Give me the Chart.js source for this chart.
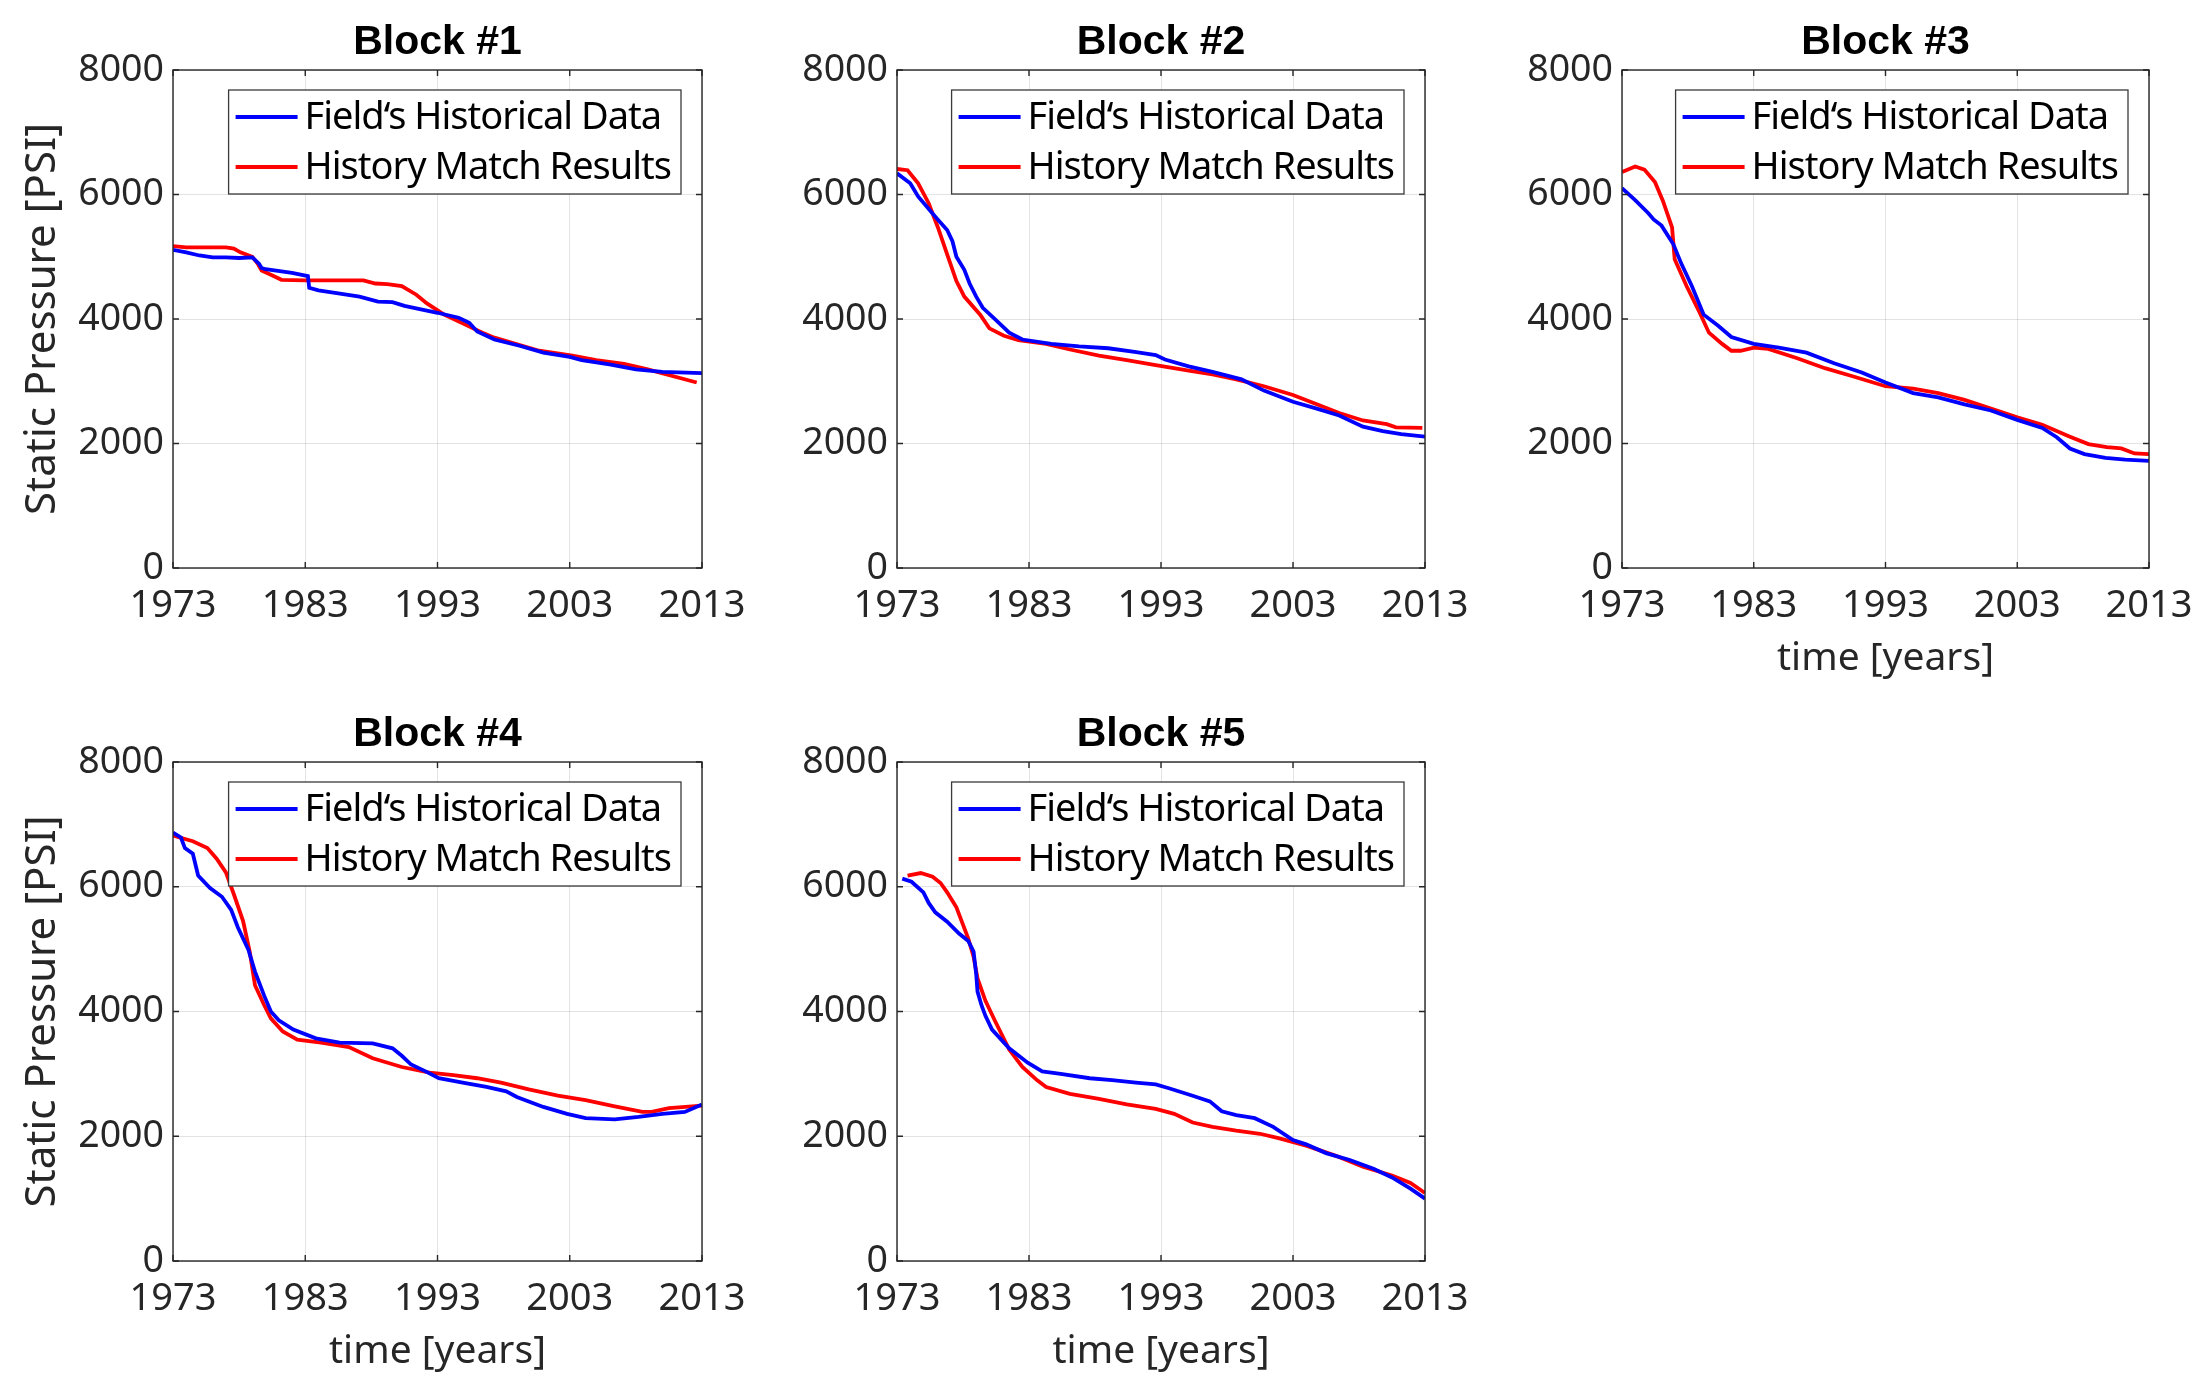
<!DOCTYPE html>
<html>
<head>
<meta charset="utf-8">
<script src="https://cdn.jsdelivr.net/npm/chart.js@4.4.1/dist/chart.umd.min.js"></script>
<style>
body{margin:0;background:#fff;width:2209px;height:1384px;position:relative;overflow:hidden}
canvas{position:absolute}
</style>
</head>
<body>
<script>
const yearTicks = [1973, 1983, 1993, 2003, 2013]
const pressureTicks = [0, 2000, 4000, 6000, 8000]
const legendLabels = ["Field‘s Historical Data", "History Match Results"]
const blockTitles = ["Block #1", "Block #2", "Block #3", "Block #4", "Block #5"]

// Block #1
const b1_field_t = [1973,1974,1975,1976,1977,1978,1979,1979.5,1979.7,1980,1982,1983.2,1983.3,1984,1985.5,1987.1,1988.5,1989.6,1990.5,1993,1994.6,1995.4,1996,1997.3,1999.2,2001,2003,2003.9,2006,2008,2010,2013]
const b1_field_p = [5110,5070,5020,4990,4990,4980,4990,4890,4820,4800,4740,4690,4500,4460,4410,4360,4280,4270,4210,4100,4020,3940,3800,3670,3570,3460,3390,3340,3270,3190,3150,3130]
const b1_match_t = [1973,1974,1977,1977.6,1978.1,1979,1979.4,1979.7,1980.4,1981.2,1983,1987.4,1988.3,1989.2,1990.3,1991.4,1992.2,1993.5,1994.9,1996.4,1997.3,1998.9,2000.7,2003.2,2005,2007.1,2008.9,2012.6]
const b1_match_p = [5170,5150,5150,5130,5070,5000,4890,4780,4710,4630,4620,4620,4570,4560,4530,4390,4250,4070,3930,3780,3700,3600,3490,3410,3340,3280,3190,2980]

// Block #2
const b2_field_t = [1973,1974,1974.6,1976,1976.8,1977.2,1977.5,1978.1,1978.5,1979,1979.5,1980.6,1981.5,1982.5,1984.7,1986.8,1989,1991,1992.6,1993.3,1995.1,1996.9,1999.1,2000.8,2003,2004.8,2006.5,2008.3,2009.8,2011.2,2013]
const b2_field_p = [6340,6180,5970,5620,5430,5250,5000,4790,4570,4360,4180,3960,3780,3670,3600,3560,3530,3470,3420,3350,3240,3150,3030,2850,2670,2560,2450,2270,2200,2150,2110]
const b2_match_t = [1973,1973.8,1974.6,1975.4,1976.1,1976.8,1977.5,1978.1,1979.3,1980,1981.1,1982.2,1984.3,1986.1,1988.3,1990.4,1992.6,1995.1,1996.9,1998.7,2000.8,2003,2004.8,2006.5,2008.3,2010.1,2010.8,2012.8]
const b2_match_p = [6410,6390,6180,5860,5470,5040,4610,4360,4070,3850,3730,3660,3600,3510,3410,3340,3260,3170,3110,3030,2920,2780,2630,2490,2370,2310,2260,2250]

// Block #3
const b3_field_t = [1973,1974,1975,1975.4,1976,1976.9,1977.5,1978.3,1979.2,1980.3,1981.3,1983,1984.9,1987,1989.1,1991.2,1993,1995.1,1997,1999,2001,2003,2004.9,2006,2007,2008.1,2009.7,2011.2,2013]
const b3_field_p = [6100,5910,5700,5600,5500,5200,4890,4530,4070,3890,3710,3600,3540,3460,3290,3140,2980,2810,2740,2630,2530,2380,2250,2100,1920,1830,1770,1740,1720]
const b3_match_t = [1973,1974,1974.7,1975.5,1976.1,1976.8,1977,1977.9,1978.9,1979.6,1980.6,1981.3,1982,1983,1984.1,1986.3,1988.4,1990.5,1993,1995.1,1997,1999,2001,2003,2004.9,2007,2008.4,2009.8,2010.9,2011.9,2013]
const b3_match_p = [6360,6450,6400,6200,5900,5470,4960,4530,4100,3780,3600,3490,3490,3540,3520,3370,3210,3080,2920,2880,2810,2700,2560,2420,2300,2110,1990,1940,1920,1840,1830]

// Block #4
const b4_field_t = [1973,1973.6,1973.9,1974.5,1974.9,1975.8,1976.7,1977.4,1977.9,1978.7,1979.2,1979.9,1980.4,1981,1982.1,1983.8,1985.6,1988.1,1989.6,1990.3,1991,1992.1,1993.1,1994.9,1996.7,1998.2,1999,2001,2002.8,2004.2,2006.4,2008.2,2010,2011.7,2013]
const b4_field_p = [6870,6790,6620,6530,6180,5980,5840,5630,5350,4990,4640,4250,4000,3860,3710,3570,3500,3490,3410,3290,3150,3040,2930,2860,2790,2720,2630,2470,2360,2290,2270,2310,2360,2390,2510]
const b4_match_t = [1973,1974.5,1975.6,1976.3,1977,1977.6,1978.3,1978.8,1979.2,1979.9,1980.4,1981.3,1982.4,1984.2,1986.3,1988.1,1990.3,1992.4,1994.2,1996,1997.8,1999.9,2002.1,2004.2,2006.4,2008.5,2009.2,2010.5,2013]
const b4_match_p = [6820,6730,6620,6450,6230,5880,5450,4960,4420,4100,3890,3680,3550,3500,3430,3250,3110,3020,2980,2930,2860,2750,2650,2580,2480,2390,2390,2450,2490]

// Block #5
const b5_field_t = [1973.4,1974.1,1975,1975.4,1975.9,1976.8,1977.7,1978.4,1978.8,1979,1979.1,1979.4,1979.7,1980.2,1981.5,1982.9,1984,1985.4,1987.6,1989.3,1991.1,1992.6,1993.6,1995.4,1996.7,1997.6,1998.7,2000.1,2001.5,2003,2004,2005.5,2007.3,2009.1,2010.5,2011.9,2013]
const b5_field_p = [6130,6080,5910,5740,5590,5440,5250,5130,4960,4600,4320,4100,3930,3710,3410,3180,3040,3000,2930,2900,2860,2830,2770,2650,2560,2400,2340,2290,2150,1940,1870,1730,1620,1480,1340,1160,1000]
const b5_match_t = [1973.8,1974.8,1975.7,1976.3,1976.8,1977.5,1978.4,1978.8,1979.1,1979.7,1980.4,1981.5,1982.5,1983.6,1984.3,1986.1,1988.3,1990.4,1992.6,1994,1995.4,1996.9,1998.7,2000.5,2001.9,2004,2006.2,2008.3,2010.5,2011.9,2013]
const b5_match_p = [6180,6220,6160,6060,5910,5670,5170,4880,4530,4170,3860,3390,3110,2900,2790,2680,2600,2510,2440,2360,2220,2150,2090,2040,1970,1850,1690,1510,1370,1250,1090]

Chart.defaults.font.family = "'Noto Sans', sans-serif"
Chart.defaults.color = '#262626'

const axisColor = '#262626'
const gridColor = 'rgba(38, 38, 38, 0.13)'
const padL = 173, padT = 70, padR = 64, padB = 120

// plot area of each panel on the page
const panels = [
    {x: 173,  y: 70,  w: 529, h: 498, yTitle: true,  xTitle: false},
    {x: 897,  y: 70,  w: 528, h: 498, yTitle: false, xTitle: false},
    {x: 1622, y: 70,  w: 527, h: 498, yTitle: false, xTitle: true},
    {x: 173,  y: 762, w: 529, h: 499, yTitle: true,  xTitle: true},
    {x: 897,  y: 762, w: 528, h: 499, yTitle: false, xTitle: true},
]
const series = [
    [b1_field_t, b1_field_p, b1_match_t, b1_match_p],
    [b2_field_t, b2_field_p, b2_match_t, b2_match_p],
    [b3_field_t, b3_field_p, b3_match_t, b3_match_p],
    [b4_field_t, b4_field_p, b4_match_t, b4_match_p],
    [b5_field_t, b5_field_p, b5_match_t, b5_match_p],
]

function zip(t, p){
    return t.map((v, i) => ({x: v, y: p[i]}))
}

// box, inward ticks and the legend, like the matlab figure
const framePlugin = {
    id: 'frame',
    afterDatasetsDraw(chart){
        const {ctx, chartArea: a, scales: {x, y}} = chart
        ctx.save()
        ctx.strokeStyle = axisColor
        ctx.lineWidth = 1.4
        ctx.strokeRect(a.left, a.top, a.right - a.left, a.bottom - a.top)
        const tl = 6
        ctx.beginPath()
        for(const v of yearTicks){
            const px = x.getPixelForValue(v)
            ctx.moveTo(px, a.bottom); ctx.lineTo(px, a.bottom - tl)
            ctx.moveTo(px, a.top); ctx.lineTo(px, a.top + tl)
        }
        for(const v of pressureTicks){
            const py = y.getPixelForValue(v)
            ctx.moveTo(a.left, py); ctx.lineTo(a.left + tl, py)
            ctx.moveTo(a.right, py); ctx.lineTo(a.right - tl, py)
        }
        ctx.stroke()

        ctx.font = "38px 'Noto Sans'"
        ctx.letterSpacing = '-1px'
        const tw = Math.max(...chart.data.datasets.map(d => ctx.measureText(d.label).width))
        const bw = 76 + tw + 10, bh = 104
        const bx = a.right - 21 - bw, by = a.top + 20
        ctx.fillStyle = '#fff'
        ctx.fillRect(bx, by, bw, bh)
        ctx.strokeStyle = '#3a3a3a'
        ctx.lineWidth = 1.3
        ctx.strokeRect(bx, by, bw, bh)
        chart.data.datasets.forEach((d, i) => {
            const ly = by + 27 + i * 50
            ctx.strokeStyle = d.borderColor
            ctx.lineWidth = 4
            ctx.beginPath()
            ctx.moveTo(bx + 7, ly); ctx.lineTo(bx + 69, ly)
            ctx.stroke()
            ctx.fillStyle = '#000'
            ctx.textBaseline = 'middle'
            ctx.fillText(d.label, bx + 76, ly + 1)
        })
        ctx.restore()
    }
}

panels.forEach((p, k) => {
    const canvas = document.createElement('canvas')
    canvas.width = padL + p.w + padR
    canvas.height = padT + p.h + padB
    canvas.style.left = (p.x - padL) + 'px'
    canvas.style.top = (p.y - padT) + 'px'
    document.body.appendChild(canvas)
    const [ft, fp, mt, mp] = series[k]

    new Chart(canvas.getContext('2d'), {
        type: 'line',
        data: {
            datasets: [
                {label: legendLabels[0], data: zip(ft, fp), borderColor: '#0000ff', borderWidth: 3.8, pointRadius: 0, tension: 0, fill: false},
                {label: legendLabels[1], data: zip(mt, mp), borderColor: '#ff0000', borderWidth: 3.8, pointRadius: 0, tension: 0, fill: false},
            ]
        },
        options: {
            responsive: false,
            animation: false,
            layout: {padding: {left: 0, top: 0, right: padR, bottom: 0}},
            plugins: {
                legend: {display: false},
                tooltip: {enabled: false},
                title: {
                    display: true,
                    text: blockTitles[k],
                    fullSize: false,
                    color: '#000',
                    font: {family: "'Liberation Sans', Arial, sans-serif", size: 41, weight: 'bold', lineHeight: 1.2},
                    padding: {top: 18, bottom: 2.8}
                }
            },
            scales: {
                x: {
                    type: 'linear',
                    min: 1973,
                    max: 2013,
                    afterBuildTicks: s => { s.ticks = yearTicks.map(v => ({value: v})) },
                    afterFit: s => { s.height = padB },
                    grid: {color: gridColor, drawTicks: false},
                    border: {display: false},
                    ticks: {padding: 15, color: axisColor, font: {size: 38, lineHeight: 1.2}, maxRotation: 0, autoSkip: false, callback: v => String(v)},
                    title: {display: p.xTitle, text: 'time [years]', color: axisColor, font: {size: 39, lineHeight: 1.2}, padding: {top: 0, bottom: 6}}
                },
                y: {
                    min: 0,
                    max: 8000,
                    afterBuildTicks: s => { s.ticks = pressureTicks.map(v => ({value: v})) },
                    afterFit: s => { s.width = padL },
                    grid: {color: gridColor, drawTicks: false},
                    border: {display: false},
                    ticks: {padding: 9, color: axisColor, font: {size: 37.5}, callback: v => String(v)},
                    title: {display: p.yTitle, text: 'Static Pressure [PSI]', color: axisColor, font: {size: 42, lineHeight: 1.2}, padding: {top: 18, bottom: 0}}
                }
            }
        },
        plugins: [framePlugin]
    })
})
</script>
</body>
</html>
